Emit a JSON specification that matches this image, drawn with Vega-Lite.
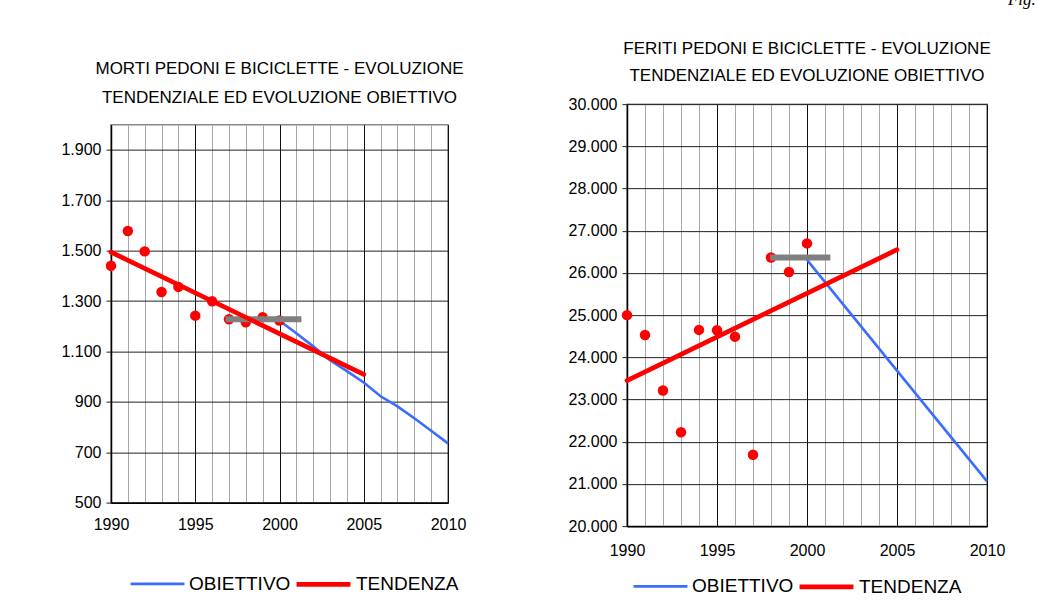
{
  "$schema": "https://vega.github.io/schema/vega-lite/v6.json",
  "padding": {"left": 60, "top": -10, "right": 0, "bottom": 0},
  "background": "white",
  "title": {"text": "Fig. 5", "anchor": "end", "font": "Liberation Serif", "fontStyle": "italic", "fontSize": 17, "fontWeight": "normal", "dx": 43, "offset": 22, "color": "black"},
  "config": {
    "locale": {"number": {"decimal": ",", "thousands": ".", "grouping": [3], "currency": ["", " €"]}},
    "font": "Liberation Sans",
    "view": {"stroke": "#888888", "strokeWidth": 1.5},
    "axis": {"labelFont": "Liberation Sans", "labelFontSize": 16, "labelColor": "black", "domainColor": "black", "domainWidth": 1.5, "gridColor": "#222222", "gridWidth": 1, "gridOpacity": 1, "tickColor": "#222222", "title": null},
    "title": {"font": "Liberation Sans", "fontSize": 17, "fontWeight": "normal", "lineHeight": 27, "color": "black"},
    "legend": {"labelFont": "Liberation Sans", "labelFontSize": 19, "labelColor": "black", "symbolType": "stroke", "symbolSize": 2900, "labelOffset": 3, "columnPadding": -4, "direction": "horizontal", "title": null}
  },
  "data": {"values": [
    {"grafico": "morti", "serie": "dati", "anno": 1990, "valore": 1440},
    {"grafico": "morti", "serie": "dati", "anno": 1991, "valore": 1578},
    {"grafico": "morti", "serie": "dati", "anno": 1992, "valore": 1497},
    {"grafico": "morti", "serie": "dati", "anno": 1993, "valore": 1336},
    {"grafico": "morti", "serie": "dati", "anno": 1994, "valore": 1356},
    {"grafico": "morti", "serie": "dati", "anno": 1995, "valore": 1242},
    {"grafico": "morti", "serie": "dati", "anno": 1996, "valore": 1299},
    {"grafico": "morti", "serie": "dati", "anno": 1997, "valore": 1228},
    {"grafico": "morti", "serie": "dati", "anno": 1998, "valore": 1216},
    {"grafico": "morti", "serie": "dati", "anno": 1999, "valore": 1236},
    {"grafico": "morti", "serie": "dati", "anno": 2000, "valore": 1223},
    {"grafico": "morti", "serie": "TENDENZA", "anno": 1990, "valore": 1494},
    {"grafico": "morti", "serie": "TENDENZA", "anno": 2005, "valore": 1009},
    {"grafico": "morti", "serie": "OBIETTIVO", "anno": 2000, "valore": 1222},
    {"grafico": "morti", "serie": "OBIETTIVO", "anno": 2001, "valore": 1172},
    {"grafico": "morti", "serie": "OBIETTIVO", "anno": 2002, "valore": 1120},
    {"grafico": "morti", "serie": "OBIETTIVO", "anno": 2003, "valore": 1065},
    {"grafico": "morti", "serie": "OBIETTIVO", "anno": 2004, "valore": 1022},
    {"grafico": "morti", "serie": "OBIETTIVO", "anno": 2005, "valore": 977},
    {"grafico": "morti", "serie": "OBIETTIVO", "anno": 2006, "valore": 922},
    {"grafico": "morti", "serie": "OBIETTIVO", "anno": 2007, "valore": 882},
    {"grafico": "morti", "serie": "OBIETTIVO", "anno": 2008, "valore": 835},
    {"grafico": "morti", "serie": "OBIETTIVO", "anno": 2009, "valore": 785},
    {"grafico": "morti", "serie": "OBIETTIVO", "anno": 2010, "valore": 735},
    {"grafico": "morti", "serie": "media", "anno": 1996.8, "valore": 1228},
    {"grafico": "morti", "serie": "media", "anno": 2001.3, "valore": 1228},
    {"grafico": "feriti", "serie": "dati", "anno": 1990, "valore": 25000},
    {"grafico": "feriti", "serie": "dati", "anno": 1991, "valore": 24530},
    {"grafico": "feriti", "serie": "dati", "anno": 1992, "valore": 23215},
    {"grafico": "feriti", "serie": "dati", "anno": 1993, "valore": 22225},
    {"grafico": "feriti", "serie": "dati", "anno": 1994, "valore": 24650},
    {"grafico": "feriti", "serie": "dati", "anno": 1995, "valore": 24640},
    {"grafico": "feriti", "serie": "dati", "anno": 1996, "valore": 24490},
    {"grafico": "feriti", "serie": "dati", "anno": 1997, "valore": 21690},
    {"grafico": "feriti", "serie": "dati", "anno": 1998, "valore": 26365},
    {"grafico": "feriti", "serie": "dati", "anno": 1999, "valore": 26020},
    {"grafico": "feriti", "serie": "dati", "anno": 2000, "valore": 26700},
    {"grafico": "feriti", "serie": "TENDENZA", "anno": 1990, "valore": 23450},
    {"grafico": "feriti", "serie": "TENDENZA", "anno": 2005, "valore": 26550},
    {"grafico": "feriti", "serie": "OBIETTIVO", "anno": 2000, "valore": 26310},
    {"grafico": "feriti", "serie": "OBIETTIVO", "anno": 2010, "valore": 21060},
    {"grafico": "feriti", "serie": "media", "anno": 1997.95, "valore": 26365},
    {"grafico": "feriti", "serie": "media", "anno": 2001.3, "valore": 26365}
  ]},
  "spacing": 100,
  "center": true,
  "resolve": {"scale": {"color": "independent", "strokeWidth": "independent"}, "legend": {"color": "independent", "strokeWidth": "independent"}},
  "hconcat": [
    {
      "width": 337,
      "height": 378,
      "title": {"text": ["", "MORTI PEDONI E BICICLETTE - EVOLUZIONE", "TENDENZIALE ED EVOLUZIONE OBIETTIVO"], "offset": 18, "lineHeight": 28.5},
      "transform": [{"filter": "datum.grafico === 'morti'"}],
      "encoding": {
        "x": {"field": "anno", "type": "quantitative", "scale": {"domain": [1990, 2010], "nice": false, "zero": false},
          "axis": {"values": [1990,1991,1992,1993,1994,1995,1996,1997,1998,1999,2000,2001,2002,2003,2004,2005,2006,2007,2008,2009,2010], "format": "d", "labelExpr": "datum.value % 5 === 0 ? datum.label : ''", "labelFlush": false, "labelOverlap": false, "ticks": false, "labelPadding": 14, "grid": true,
            "gridColor": {"condition": {"test": "datum.value % 5 === 0", "value": "#111111"}, "value": "#a8a8a8"}}},
        "y": {"field": "valore", "type": "quantitative", "scale": {"domain": [500, 2000], "nice": false, "zero": false},
          "axis": {"values": [500, 700, 900, 1100, 1300, 1500, 1700, 1900], "format": ",d", "grid": true, "tickSize": 5, "labelPadding": 5, "labelOverlap": false}}
      },
      "layer": [
        {"transform": [{"filter": "datum.serie === 'OBIETTIVO'"}], "mark": {"type": "line"},
          "encoding": {"color": {"field": "serie", "type": "nominal", "scale": {"domain": ["OBIETTIVO", "TENDENZA"], "range": ["#3b6cff", "#ff0000"]}, "legend": {"orient": "none", "legendX": 18, "legendY": 430}},
            "strokeWidth": {"field": "serie", "type": "nominal", "scale": {"domain": ["OBIETTIVO", "TENDENZA"], "range": [2.6, 4.7]}, "legend": {"orient": "none", "legendX": 18, "legendY": 430}}}},
        {"transform": [{"filter": "datum.serie === 'dati'"}], "mark": {"type": "circle", "color": "#ff0000", "size": 110, "opacity": 1}},
        {"transform": [{"filter": "datum.serie === 'media'"}], "mark": {"type": "line", "color": "#808080", "strokeWidth": 6, "strokeCap": "butt"}},
        {"transform": [{"filter": "datum.serie === 'TENDENZA'"}], "mark": {"type": "line", "strokeCap": "round"},
          "encoding": {"color": {"field": "serie", "type": "nominal", "scale": {"domain": ["OBIETTIVO", "TENDENZA"], "range": ["#3b6cff", "#ff0000"]}, "legend": {"orient": "none", "legendX": 18, "legendY": 430}},
            "strokeWidth": {"field": "serie", "type": "nominal", "scale": {"domain": ["OBIETTIVO", "TENDENZA"], "range": [2.6, 4.7]}, "legend": {"orient": "none", "legendX": 18, "legendY": 430}}}}
      ]
    },
    {
      "width": 360,
      "height": 422,
      "title": {"text": ["FERITI PEDONI E BICICLETTE - EVOLUZIONE", "TENDENZIALE ED EVOLUZIONE OBIETTIVO"], "offset": 11},
      "transform": [{"filter": "datum.grafico === 'feriti'"}],
      "encoding": {
        "x": {"field": "anno", "type": "quantitative", "scale": {"domain": [1990, 2010], "nice": false, "zero": false},
          "axis": {"values": [1990,1991,1992,1993,1994,1995,1996,1997,1998,1999,2000,2001,2002,2003,2004,2005,2006,2007,2008,2009,2010], "format": "d", "labelExpr": "datum.value % 5 === 0 ? datum.label : ''", "labelFlush": false, "labelOverlap": false, "ticks": false, "labelPadding": 16, "grid": true,
            "gridColor": {"condition": {"test": "datum.value % 5 === 0", "value": "#111111"}, "value": "#a8a8a8"}}},
        "y": {"field": "valore", "type": "quantitative", "scale": {"domain": [20000, 30000], "nice": false, "zero": false},
          "axis": {"values": [20000, 21000, 22000, 23000, 24000, 25000, 26000, 27000, 28000, 29000, 30000], "format": ",d", "grid": true, "tickSize": 5, "labelPadding": 5, "labelOverlap": false}}
      },
      "layer": [
        {"transform": [{"filter": "datum.serie === 'OBIETTIVO'"}], "mark": {"type": "line"},
          "encoding": {"color": {"field": "serie", "type": "nominal", "scale": {"domain": ["OBIETTIVO", "TENDENZA"], "range": ["#3b6cff", "#ff0000"]}, "legend": {"orient": "none", "legendX": -13, "legendY": 435, "padding": 18}},
            "strokeWidth": {"field": "serie", "type": "nominal", "scale": {"domain": ["OBIETTIVO", "TENDENZA"], "range": [2.6, 4.7]}, "legend": {"orient": "none", "legendX": -13, "legendY": 435, "padding": 18}}}},
        {"transform": [{"filter": "datum.serie === 'dati'"}], "mark": {"type": "circle", "color": "#ff0000", "size": 110, "opacity": 1}},
        {"transform": [{"filter": "datum.serie === 'media'"}], "mark": {"type": "line", "color": "#808080", "strokeWidth": 6, "strokeCap": "butt"}},
        {"transform": [{"filter": "datum.serie === 'TENDENZA'"}], "mark": {"type": "line", "strokeCap": "round"},
          "encoding": {"color": {"field": "serie", "type": "nominal", "scale": {"domain": ["OBIETTIVO", "TENDENZA"], "range": ["#3b6cff", "#ff0000"]}, "legend": {"orient": "none", "legendX": -13, "legendY": 435, "padding": 18}},
            "strokeWidth": {"field": "serie", "type": "nominal", "scale": {"domain": ["OBIETTIVO", "TENDENZA"], "range": [2.6, 4.7]}, "legend": {"orient": "none", "legendX": -13, "legendY": 435, "padding": 18}}}}
      ]
    }
  ]
}
